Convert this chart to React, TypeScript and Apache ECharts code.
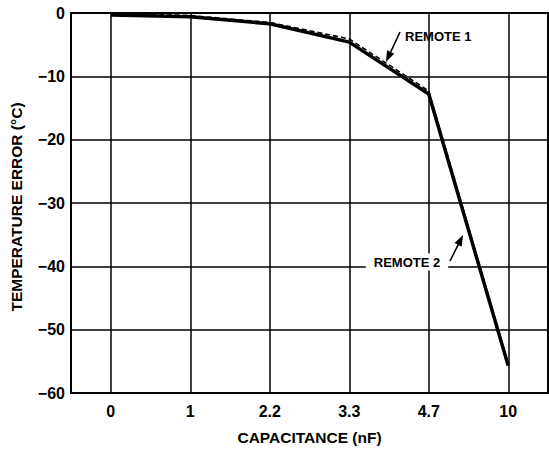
import React, { useEffect, useRef } from "react";
import * as echarts from "echarts";

const categories = ["0", "1", "2.2", "3.3", "4.7", "10"];
const remote1 = [-0.1, -0.4, -1.5, -4.1, -12.3, -55.4];
const remote2 = [-0.3, -0.6, -1.7, -4.6, -12.8, -55.7];
const yTicks = { min: -60, max: 0, interval: 10 };
const xName = "CAPACITANCE (nF)";
const yName = "TEMPERATURE ERROR (°C)";

const FONT = "'Liberation Sans', Arial, sans-serif";

function arrow(tail: number[], tip: number[]) {
  const dx = tip[0] - tail[0];
  const dy = tip[1] - tail[1];
  const len = Math.hypot(dx, dy);
  const ux = dx / len, uy = dy / len;
  const nx = -uy, ny = ux;
  const bx = tip[0] - 11 * ux, by = tip[1] - 11 * uy;
  return [
    {
      type: "line",
      shape: { x1: tail[0], y1: tail[1], x2: bx, y2: by },
      style: { stroke: "#000", lineWidth: 1.6 },
      z: 100,
    },
    {
      type: "polygon",
      shape: {
        points: [
          [tip[0], tip[1]],
          [bx + 4 * nx, by + 4 * ny],
          [bx - 4 * nx, by - 4 * ny],
        ],
      },
      style: { fill: "#000" },
      z: 100,
    },
  ];
}

export default function App() {
  const ref = useRef<HTMLDivElement>(null);
  useEffect(() => {
    if (!ref.current) return;
    const chart = echarts.init(ref.current, null, { renderer: "svg" });
    chart.setOption({
      animation: false,
      backgroundColor: "#fff",
      grid: {
        left: 68,
        top: 13,
        right: 1,
        bottom: 55,
        show: true,
        borderColor: "#000",
        borderWidth: 2,
        containLabel: false,
      },
      xAxis: {
        type: "category",
        data: categories,
        boundaryGap: true,
        name: xName,
        nameLocation: "middle",
        nameGap: 36,
        nameTextStyle: { fontFamily: FONT, fontWeight: "bold", fontSize: 15.5, color: "#000" },
        axisLine: { show: true, lineStyle: { color: "#000", width: 2 } },
        axisTick: { show: false, alignWithLabel: true },
        axisLabel: { fontFamily: FONT, fontWeight: "bold", fontSize: 16, color: "#000", margin: 10 },
        splitLine: { show: true, alignWithLabel: true, lineStyle: { color: "#000", width: 1.5 } },
      },
      yAxis: {
        type: "value",
        min: yTicks.min,
        max: yTicks.max,
        interval: yTicks.interval,
        name: yName,
        nameLocation: "middle",
        nameGap: 47,
        nameTextStyle: { fontFamily: FONT, fontWeight: "bold", fontSize: 15.5, color: "#000", padding: [0, 8, 0, 0] },
        axisLine: { show: true, lineStyle: { color: "#000", width: 2 } },
        axisTick: { show: false },
        axisLabel: {
          fontFamily: FONT,
          fontWeight: "bold",
          fontSize: 16,
          color: "#000",
          margin: 6,
          formatter: (v: number) => (v < 0 ? "\u2212" + Math.abs(v) : String(v)),
        },
        splitLine: { show: true, lineStyle: { color: "#000", width: 1.5 } },
      },
      series: [
        {
          name: "REMOTE 2",
          type: "line",
          data: remote2,
          symbol: "none",
          lineStyle: { color: "#000", width: 3.5, type: "solid" },
          z: 3,
        },
        {
          name: "REMOTE 1",
          type: "line",
          data: remote1,
          symbol: "none",
          lineStyle: { color: "#000", width: 1.6, type: [5, 3] },
          z: 4,
        },
      ],
      graphic: [
        {
          type: "text",
          x: 405,
          y: 36,
          style: {
            text: "REMOTE 1",
            fontFamily: FONT,
            fontWeight: "bold",
            fontSize: 13,
            fill: "#000",
            verticalAlign: "middle",
          },
          z: 100,
        },
        ...arrow([400, 32], [386, 62]),
        {
          type: "text",
          x: 407,
          y: 262,
          style: {
            text: "REMOTE 2",
            fontFamily: FONT,
            fontWeight: "bold",
            fontSize: 13,
            fill: "#000",
            align: "center",
            verticalAlign: "middle",
            backgroundColor: "#fff",
            padding: [2, 8, 2, 8],
          },
          z: 100,
        },
        ...arrow([450, 261], [463, 235]),
      ],
    });
    return () => chart.dispose();
  }, []);
  return <div ref={ref} style={{ width: 549, height: 450, position: "absolute", left: 0, top: 0 }} />;
}
